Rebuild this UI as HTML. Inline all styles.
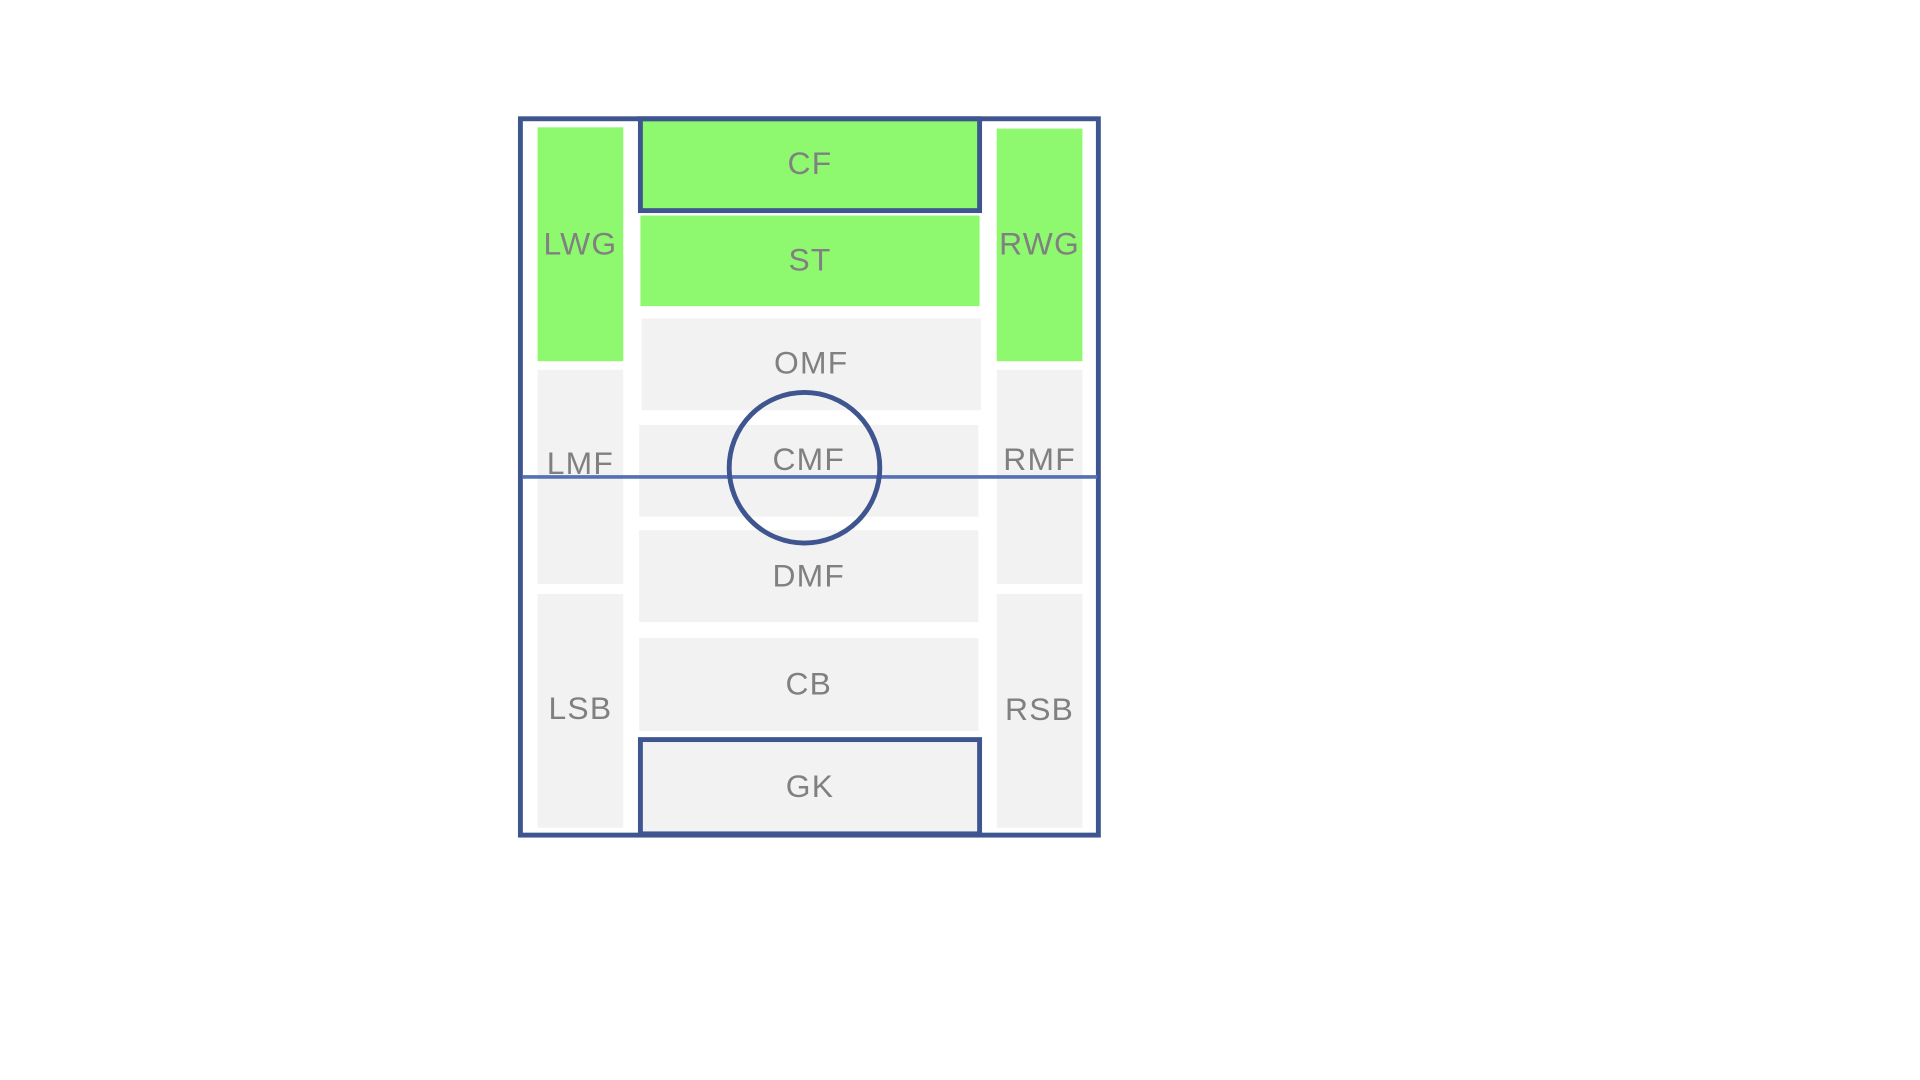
<!DOCTYPE html>
<html><head><meta charset="utf-8"><style>
html,body{margin:0;padding:0;background:#fff;width:1920px;height:1080px;overflow:hidden}
svg{display:block}
text{font-family:"Liberation Sans","DejaVu Sans",sans-serif;fill:#808080;font-size:26px;letter-spacing:1px;text-anchor:middle;dominant-baseline:central}
</style></head><body>
<svg id="pitch" width="1920" height="1080" viewBox="0 0 1568 882" xmlns="http://www.w3.org/2000/svg"></svg>
<script>
const positions = ["LWG","LMF","LSB","CF","ST","OMF","CMF","DMF","CB","GK","RWG","RMF","RSB"];
const highlighted = [true,false,false,true,true,false,false,false,false,false,true,false,false];
const boxes = [
 [439,104,70,191],[439,302,70,175],[439,485,70,191],
 [523,97,277,75],[523,176,277,74],[524,260,277,75],[522,347,277,75],[522,433,277,75],[522,521,277,76],[523,604,277,77],
 [814,105,70,190],[814,302,70,175],[814,485,70,191]
];
const labelY = [199,378,578,133,212,296,375,470,558,642,199,375,579];
const NS="http://www.w3.org/2000/svg";
const svg=document.getElementById('pitch');
function mk(t,a){const e=document.createElementNS(NS,t);for(const k in a)e.setAttribute(k,a[k]);svg.appendChild(e);return e;}
positions.forEach((p,i)=>{
  const b=boxes[i];
  const r=mk('rect',{x:b[0],y:b[1],width:b[2],height:b[3],fill:highlighted[i]?'#8ef86f':'#f2f2f2'});
  
  
});
const outer=mk('rect',{x:425,y:97,width:472,height:585,fill:'none',stroke:'#3f558f','stroke-width':4});


const cfBox=mk('rect',{x:523,y:97,width:277,height:75,fill:'none',stroke:'#3f558f','stroke-width':4});


const gkBox=mk('rect',{x:523,y:604,width:277,height:77,fill:'none',stroke:'#3f558f','stroke-width':4});


positions.forEach((p,i)=>{
  const b=boxes[i];
  const t=mk('text',{x:b[0]+b[2]/2,y:labelY[i]});
  t.textContent=p;
  
  
});
const mid=mk('line',{x1:427,y1:389.5,x2:896,y2:389.5,stroke:'#5570b5','stroke-width':3});


const circ=mk('circle',{cx:657,cy:382,r:61.5,fill:'none',stroke:'#3f558f','stroke-width':4});


</script>
</body></html>
